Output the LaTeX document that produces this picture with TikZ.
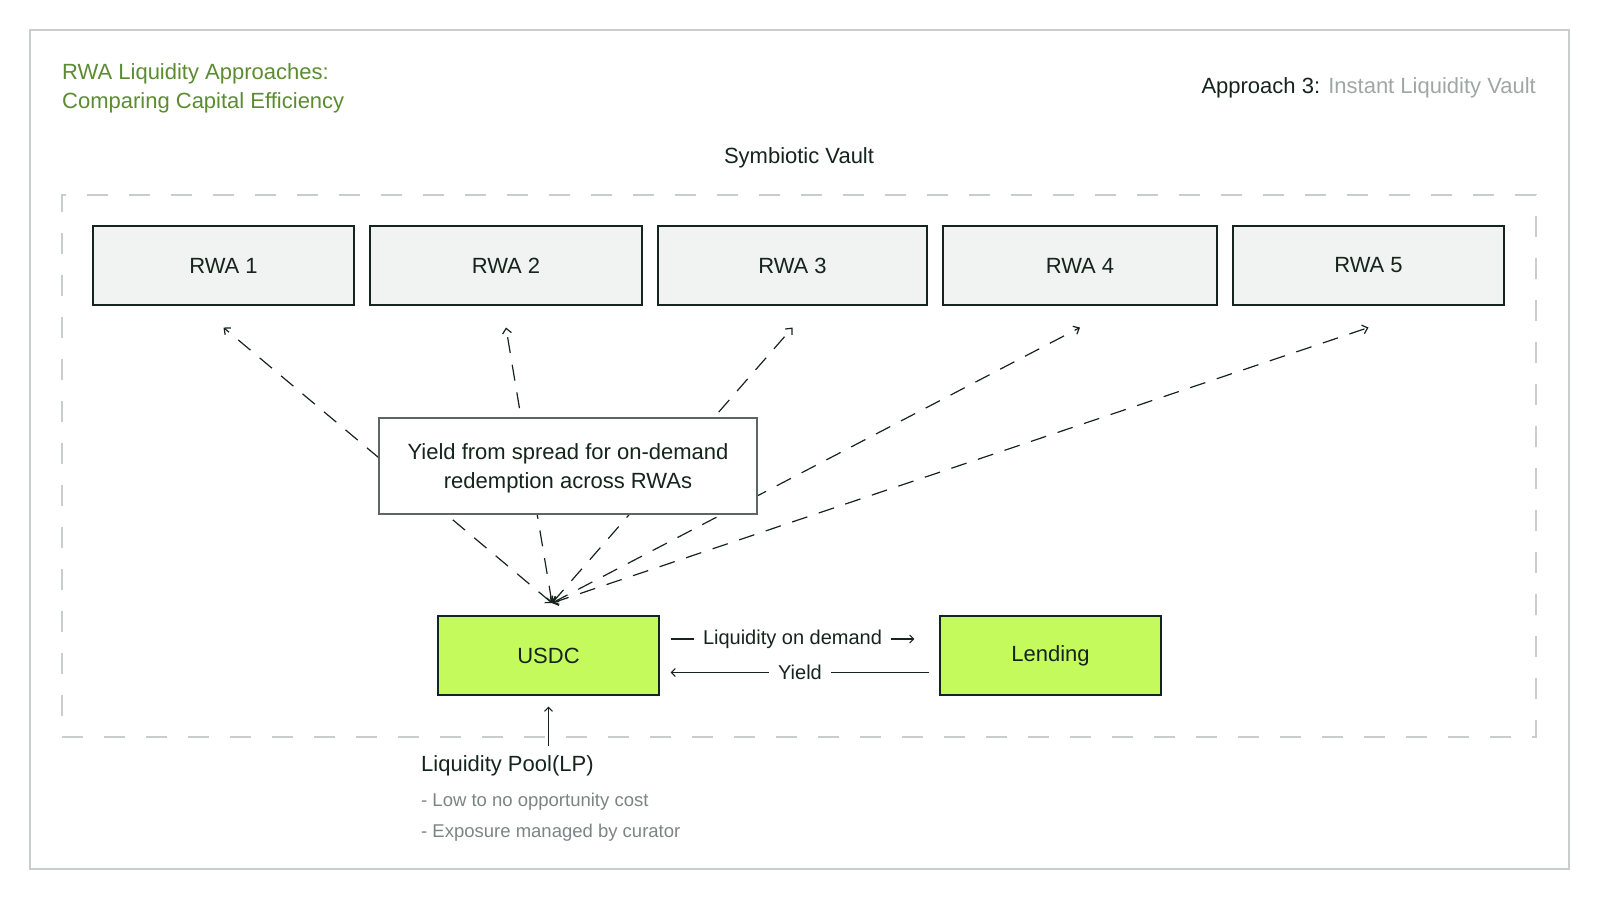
\documentclass[tikz,border=0pt]{standalone}
\usepackage{fontspec}
\setmainfont{Liberation Sans}
\usetikzlibrary{arrows.meta,calc,positioning}
\definecolor{ink}{HTML}{15241D}
\definecolor{titlegreen}{HTML}{5B8C32}
\definecolor{softgray}{HTML}{9EA7A5}
\definecolor{notegray}{HTML}{7B8583}
\definecolor{framegray}{HTML}{C9CDCC}
\definecolor{boxgray}{HTML}{5E6664}
\definecolor{rwafill}{HTML}{F1F2F2}
\definecolor{lime}{HTML}{C5FA5C}

\begin{document}
\begin{tikzpicture}[x=1pt,y=-1pt,
  txt/.style={font=\fontsize{22}{29}\selectfont,text=ink},
  rwa/.style={txt,draw=ink,line width=1.1pt,fill=rwafill,minimum height=79pt,inner sep=0pt},
  asset/.style={txt,draw=ink,line width=1.1pt,fill=lime,minimum width=221pt,minimum height=79pt,inner sep=0pt},
  flow/.style={draw=ink,line width=1.2pt,dash pattern=on 16pt off 12pt,
    {Straight Barb[length=5pt,width=9pt]}-{Straight Barb[length=5pt,width=9pt]}},
  link/.style={draw=ink,line width=1.1pt,-{Straight Barb[length=4pt,width=8pt]}},
  small/.style={font=\fontsize{20}{24}\selectfont,text=ink,fill=white,inner xsep=9pt,inner ysep=0pt},
  note/.style={font=\fontsize{18.5}{22}\selectfont,text=notegray,anchor=west,inner sep=0pt}]
\useasboundingbox (0,0) rectangle (1600,900);
\draw[framegray,line width=1.3pt] (30,30) rectangle (1569,869);

% headings
\node (title1) [txt,text=titlegreen,anchor=base west,inner sep=0pt] at (62,79) {RWA Liquidity Approaches:};
\node (title2) [txt,text=titlegreen,anchor=base west,inner sep=0pt] at (62,108) {Comparing Capital Efficiency};
\node (approach) [txt,anchor=base east,inner sep=0pt] at (1536,93) {Approach 3: {\color{softgray}Instant Liquidity Vault}};
\node (vaultname) [txt,anchor=base,inner sep=0pt] at (799,163) {Symbiotic Vault};

% vault
\node (vault) [draw=framegray,line width=1.1pt,dash pattern=on 21pt off 21pt,minimum width=1474pt,minimum height=542pt,inner sep=0pt] at (799,466) {};

\node (rwa1) [rwa,minimum width=261pt] at (223.5,265.5) {RWA 1};
\node (rwa2) [rwa,minimum width=272pt] at (506,265.5) {RWA 2};
\node (rwa3) [rwa,minimum width=269pt] at (792.5,265.5) {RWA 3};
\node (rwa4) [rwa,minimum width=274pt] at (1080,265.5) {RWA 4};
\node (rwa5) [rwa,minimum width=271pt] at (1368.5,265.5) {RWA 5};

\node (usdc) [asset] at (548.5,655.5) {USDC};
\node (lend) [asset] at (1050.5,655.5) {Lending};

\coordinate (hub) at (552,603);
\path[flow] (hub) -- ([yshift=-22pt]rwa1.south);
\path[flow] (hub) -- ([yshift=-22pt]rwa2.south);
\path[flow] (hub) -- ([yshift=-22pt]rwa3.south);
\path[flow] (hub) -- ([yshift=-22pt]rwa4.south);
\path[flow] (hub) -- ([yshift=-22pt]rwa5.south);

\node (spread) [txt,draw=boxgray,line width=1.1pt,fill=white,minimum width=378pt,minimum height=96pt,align=center,text depth=0pt] at (568,466) {Yield from spread for on-demand\\redemption across RWAs};

\path[link] ($(usdc.east)+(11,-16.5)$) -- node[small] {Liquidity on demand} ($(lend.west)+(-25,-16.5)$);
\path[link] ($(lend.west)+(-10,17)$) -- node[small] {Yield} ($(usdc.east)+(11,17)$);

% liquidity pool
\path[link] ($(usdc.south)+(0,50)$) -- ($(usdc.south)+(0,11)$);
\node (lp) [txt,anchor=west,inner sep=0pt] at (421,766) {Liquidity Pool(LP)};
\node (note1) [note] at (421,802) {- Low to no opportunity cost};
\node (note2) [note] at (421,833) {- Exposure managed by curator};
\end{tikzpicture}
\end{document}
